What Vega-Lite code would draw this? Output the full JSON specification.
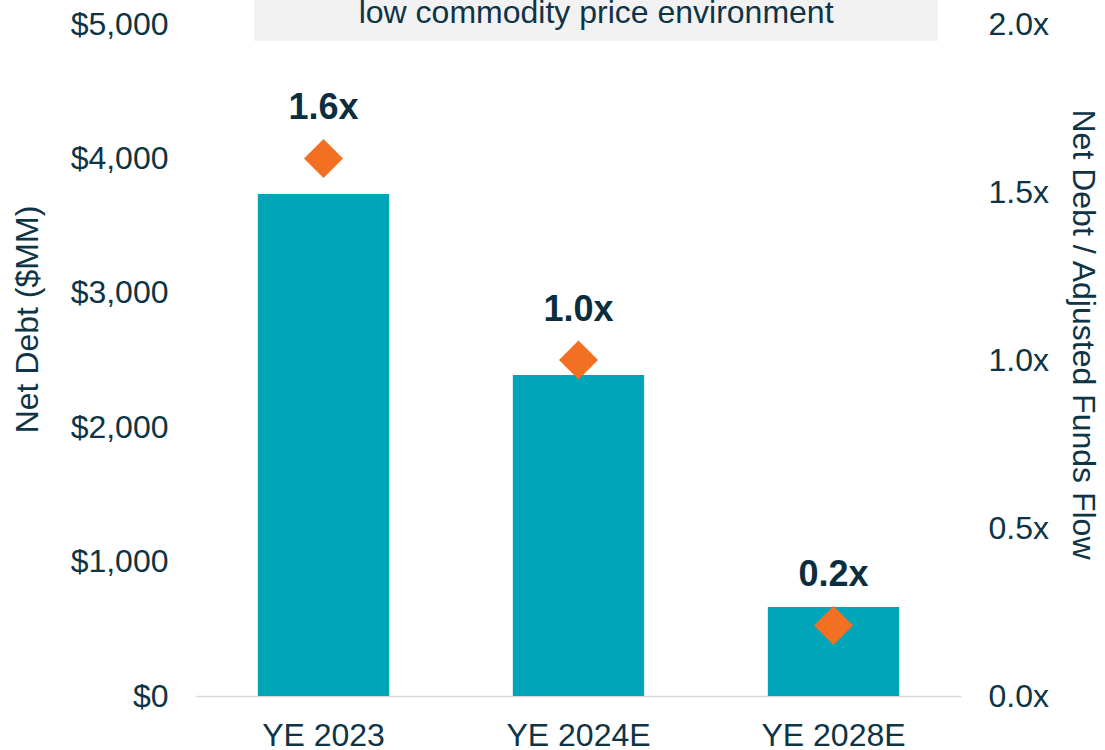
{
  "$schema": "https://vega.github.io/schema/vega-lite/v6.json",
  "width": 765,
  "height": 672,
  "autosize": {"type": "none"},
  "padding": {"left": 196, "top": 24, "right": 144, "bottom": 54},
  "background": "white",
  "config": {
    "view": {"stroke": null},
    "font": "Liberation Sans",
    "axis": {
      "labelFont": "Liberation Sans",
      "titleFont": "Liberation Sans",
      "labelColor": "#0E3446",
      "titleColor": "#0E3446",
      "labelFontSize": 32,
      "titleFontSize": 32,
      "titleFontWeight": "normal",
      "grid": false,
      "ticks": false,
      "tickSize": 0
    }
  },
  "data": {
    "values": [
      {"period": "YE 2023", "netDebt": 3735, "ratio": 1.6, "label": "1.6x"},
      {"period": "YE 2024E", "netDebt": 2388, "ratio": 1.0, "label": "1.0x"},
      {"period": "YE 2028E", "netDebt": 662, "ratio": 0.21, "label": "0.2x"}
    ]
  },
  "layer": [
    {
      "data": {"values": [{"note": "low commodity price environment"}]},
      "encoding": {
        "x": {"datum": 0.0758, "type": "quantitative", "scale": {"domain": [0, 1], "nice": false, "zero": false}, "axis": null},
        "y": {"datum": 5179, "type": "quantitative", "scale": {"domain": [0, 5000], "nice": false}, "axis": null}
      },
      "layer": [
        {
          "mark": {"type": "rect", "color": "#F2F2F2"},
          "encoding": {
            "x2": {"datum": 0.970},
            "y2": {"datum": 4874}
          }
        },
        {
          "mark": {"type": "text", "fontSize": 32, "color": "#0E3446", "align": "center", "baseline": "alphabetic", "font": "Liberation Sans"},
          "encoding": {
            "x": {"datum": 0.523, "type": "quantitative"},
            "y": {"datum": 5007, "type": "quantitative"},
            "text": {"field": "note"}
          }
        }
      ]
    },
    {
      "mark": {"type": "bar", "color": "#00A5B7"},
      "encoding": {
        "x": {
          "field": "period", "type": "nominal", "sort": null,
          "scale": {"paddingInner": 0.485, "paddingOuter": 0.2425},
          "axis": {"title": null, "labelAngle": 0, "labelPadding": 24, "domainColor": "#D9D9D9", "domainWidth": 1.5}
        },
        "y": {
          "field": "netDebt", "type": "quantitative",
          "scale": {"domain": [0, 5000], "nice": false},
          "axis": {
            "title": "Net Debt ($MM)", "values": [0, 1000, 2000, 3000, 4000, 5000],
            "format": "$,.0f", "domain": false, "labelPadding": 28,
            "titleX": -159, "titleY": 295, "titleBaseline": "alphabetic", "titleAngle": -90
          }
        }
      }
    },
    {
      "encoding": {
        "x": {
          "field": "period", "type": "nominal", "sort": null,
          "scale": {"paddingInner": 0.485, "paddingOuter": 0.2425},
          "axis": null
        },
        "y": {
          "field": "ratio", "type": "quantitative",
          "scale": {"domain": [0, 2], "nice": false},
          "axis": {
            "orient": "right", "title": "Net Debt / Adjusted Funds Flow",
            "values": [0, 0.5, 1, 1.5, 2],
            "labelExpr": "format(datum.value, '.1f') + 'x'",
            "domain": false, "labelPadding": 27,
            "titleX": 111, "titleY": 310, "titleBaseline": "alphabetic", "titleAngle": 90
          }
        }
      },
      "layer": [
        {
          "mark": {"type": "point", "shape": "diamond", "filled": true, "size": 1521, "color": "#F36F21", "opacity": 1, "strokeWidth": 0}
        },
        {
          "mark": {"type": "text", "fontSize": 36, "fontWeight": "bold", "color": "#0A2D40", "dy": -39, "baseline": "alphabetic", "align": "center", "font": "Liberation Sans"},
          "encoding": {"text": {"field": "label"}}
        }
      ]
    }
  ],
  "resolve": {"scale": {"x": "independent", "y": "independent"}}
}
